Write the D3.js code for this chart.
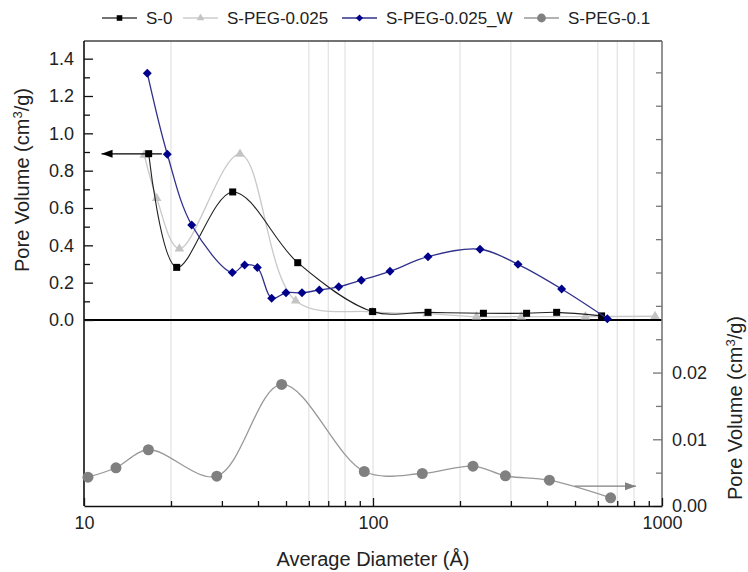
<!DOCTYPE html>
<html><head><meta charset="utf-8">
<script src="https://cdn.jsdelivr.net/npm/d3@7"></script>
<style>
body{margin:0;background:#fff}
svg{display:block}
text{font-family:"Liberation Sans",Arial,sans-serif;fill:#222}
</style>
</head><body>
<svg id="chart" width="748" height="572"></svg>
<script>
// ---- data ----
const seriesNames = ["S-0", "S-PEG-0.025", "S-PEG-0.025_W", "S-PEG-0.1"];

const s0Diam = [16.74, 20.93, 32.7, 54.9, 99.7, 155, 241, 340, 432, 618];
const s0Vol  = [0.891, 0.282, 0.686, 0.307, 0.045, 0.041, 0.036, 0.036, 0.041, 0.022];

const peg025Diam = [16.17, 17.84, 21.38, 34.66, 54.0, 99.5, 154, 228, 326, 543, 946];
const peg025Vol  = [0.884, 0.652, 0.382, 0.889, 0.103, 0.044, 0.034, 0.018, 0.018, 0.018, 0.02];

const peg025wDiam = [16.56, 19.42, 23.59, 32.6, 35.97, 39.8, 44.6, 50.0, 56.8, 65.2, 76.1, 91.1, 114.5, 155, 234.6, 317.5, 449.6, 646.9];
const peg025wVol  = [1.322, 0.888, 0.509, 0.254, 0.295, 0.281, 0.116, 0.146, 0.146, 0.161, 0.178, 0.213, 0.261, 0.339, 0.379, 0.298, 0.166, 0.007];

const peg01Diam = [10.32, 12.9, 16.7, 28.8, 48.3, 93.3, 148.1, 221.8, 287.2, 407.7, 664];
const peg01Vol  = [0.00432, 0.00573, 0.00843, 0.00447, 0.01822, 0.00517, 0.00487, 0.00597, 0.00453, 0.00387, 0.00123];

const xTickValues = [10, 100, 1000];
const xMinorValues = [20,30,40,50,60,70,80,90,200,300,400,500,600,700,800,900];
const gridValues = [20, 60, 70, 80, 100, 200, 300, 600, 700, 800];
const leftTickValues = [0, 0.2, 0.4, 0.6, 0.8, 1.0, 1.2, 1.4];
const leftMinorValues = [0.1, 0.3, 0.5, 0.7, 0.9, 1.1, 1.3];
const rightTickValues = [0, 0.01, 0.02];
const rightMinorValues = [0.005, 0.015, 0.025, 0.03, 0.035, 0.04, 0.045, 0.05, 0.055, 0.06, 0.065];
const leftArrow = {from: 18.6, to: 11.5, value: 0.89};
const rightArrow = {from: 499, to: 813, value: 0.00297};

// ---- layout ----
const L = 84, R = 662, T = 41, B = 506, ZERO_TOP = 320;
const svg = d3.select("#chart");

const x = d3.scaleLog().domain([10, 1000]).range([L, R]);
const yTop = d3.scaleLinear().domain([0, 1.5]).range([ZERO_TOP, 40]);
const yBot = d3.scaleLinear().domain([0, 0.07]).range([B, 39]);

// gridlines
svg.append("g").selectAll("line").data(gridValues).join("line")
  .attr("x1", d => x(d)).attr("x2", d => x(d))
  .attr("y1", T).attr("y2", B)
  .attr("stroke", "#dcdcdc").attr("stroke-width", 1);

// frame top line
svg.append("line").attr("x1", L).attr("x2", R).attr("y1", T).attr("y2", T)
  .attr("stroke", "#444").attr("stroke-width", 1.5);

// top panel zero line
svg.append("line").attr("x1", L).attr("x2", R).attr("y1", yTop(0)).attr("y2", yTop(0))
  .attr("stroke", "#000").attr("stroke-width", 2);

// ---- axes ----
function styleAxis(g, col) {
  g.selectAll("path.domain").attr("stroke", col).attr("stroke-width", 1.6);
  g.selectAll(".tick line").attr("stroke", col).attr("stroke-width", 1.3);
  g.selectAll("text").attr("fill", "#222").style("font-family", '"Liberation Sans",Arial,sans-serif').style("font-size", "18px");
}

// left axis line (full height)
svg.append("line").attr("x1", L).attr("x2", L).attr("y1", T).attr("y2", B)
  .attr("stroke", "#111").attr("stroke-width", 1.6);
// right axis line
svg.append("line").attr("x1", R).attr("x2", R).attr("y1", T).attr("y2", B)
  .attr("stroke", "#777").attr("stroke-width", 1.6);

const gLeft = svg.append("g").attr("transform", `translate(${L},0)`)
  .call(d3.axisLeft(yTop).tickValues(leftTickValues).tickSize(-9).tickSizeOuter(0).tickPadding(10)
    .tickFormat(d3.format(".1f")));
styleAxis(gLeft, "#111");
gLeft.select("path.domain").remove();
const gLeftMinor = svg.append("g").attr("transform", `translate(${L},0)`)
  .call(d3.axisLeft(yTop).tickValues(leftMinorValues).tickSize(-6).tickSizeOuter(0).tickFormat(""));
styleAxis(gLeftMinor, "#111");
gLeftMinor.select("path.domain").remove();

const gRight = svg.append("g").attr("transform", `translate(${R},0)`)
  .call(d3.axisRight(yBot).tickValues(rightTickValues).tickSize(-9).tickSizeOuter(0).tickPadding(10)
    .tickFormat(d3.format(".2f")));
styleAxis(gRight, "#777");
gRight.select("path.domain").remove();
const gRightMinor = svg.append("g").attr("transform", `translate(${R},0)`)
  .call(d3.axisRight(yBot).tickValues(rightMinorValues).tickSize(-6).tickSizeOuter(0).tickFormat(""));
styleAxis(gRightMinor, "#777");
gRightMinor.select("path.domain").remove();

const gBottom = svg.append("g").attr("transform", `translate(0,${B})`)
  .call(d3.axisBottom(x).tickValues(xTickValues).tickSize(-8).tickSizeOuter(0).tickPadding(10)
    .tickFormat(d3.format("d")));
styleAxis(gBottom, "#111");
const gBottomMinor = svg.append("g").attr("transform", `translate(0,${B})`)
  .call(d3.axisBottom(x).tickValues(xMinorValues).tickSize(-5).tickSizeOuter(0).tickFormat(""));
styleAxis(gBottomMinor, "#111");
gBottomMinor.select("path.domain").remove();

// axis titles
svg.append("text").attr("x", (L + R) / 2 - 0).attr("y", 566).attr("text-anchor", "middle")
  .style("font-size", "20px").text("Average Diameter (Å)");

function yTitle(tx, ty) {
  const t = svg.append("text").attr("transform", `translate(${tx},${ty}) rotate(-90)`)
    .attr("text-anchor", "middle").style("font-size", "20px");
  t.append("tspan").text("Pore Volume (cm");
  t.append("tspan").attr("dy", -7).style("font-size", "13px").text("3");
  t.append("tspan").attr("dy", 7).text("/g)");
}
yTitle(29, 180);
yTitle(742, 408);

// ---- series ----
const curve = d3.curveCatmullRom.alpha(0.5);
function drawLine(diam, vol, ys, color, w) {
  const pts = diam.map((d, i) => [d, vol[i]]);
  svg.append("path").datum(pts)
    .attr("d", d3.line().x(p => x(p[0])).y(p => ys(p[1])).curve(curve))
    .attr("fill", "none").attr("stroke", color).attr("stroke-width", w);
  return pts;
}
const sym = {
  square: d3.symbol().type(d3.symbolSquare).size(49),
  triangle: d3.symbol().type(d3.symbolTriangle).size(40),
  diamond: d3.symbol().type(d3.symbolSquare).size(40),
  circle: d3.symbol().type(d3.symbolCircle).size(95)
};
function drawMarkers(pts, ys, symbolGen, color, rot) {
  svg.append("g").selectAll("path").data(pts).join("path")
    .attr("d", symbolGen)
    .attr("transform", p => `translate(${x(p[0])},${ys(p[1])}) rotate(${rot})`)
    .attr("fill", color);
}

// draw order: light gray, black, blue, gray bottom
const p2 = drawLine(peg025Diam, peg025Vol, yTop, "#c9c9c9", 1.3);
drawMarkers(p2, yTop, sym.triangle, "#c4c4c4", 0);
const p1 = drawLine(s0Diam, s0Vol, yTop, "#222", 1.1);
drawMarkers(p1, yTop, sym.square, "#000", 0);
const p3 = drawLine(peg025wDiam, peg025wVol, yTop, "#30308c", 1.3);
drawMarkers(p3, yTop, sym.diamond, "#00008b", 45);
const p4 = drawLine(peg01Diam, peg01Vol, yBot, "#999", 1.3);
drawMarkers(p4, yBot, sym.circle, "#808080", 0);

// arrows
function arrow(a, ys, color, dir) {
  const x1 = x(a.from), x2 = x(a.to), yy = ys(a.value);
  svg.append("line").attr("x1", x1).attr("x2", x2).attr("y1", yy).attr("y2", yy)
    .attr("stroke", color).attr("stroke-width", 1.3);
  const hl = 11, hw = 4;
  svg.append("path")
    .attr("d", `M${x2},${yy} L${x2 - dir * hl},${yy - hw} L${x2 - dir * hl},${yy + hw} Z`)
    .attr("fill", color);
}
arrow(leftArrow, yTop, "#000", -1);
arrow(rightArrow, yBot, "#808080", 1);

// ---- legend ----
const legendItems = [
  {name: seriesNames[0], x: 102, line: "#444", sym: sym.square, fill: "#000", rot: 0},
  {name: seriesNames[1], x: 183, line: "#ccc", sym: sym.triangle, fill: "#c4c4c4", rot: 0},
  {name: seriesNames[2], x: 342, line: "#30308c", sym: sym.diamond, fill: "#00008b", rot: 45},
  {name: seriesNames[3], x: 524, line: "#999", sym: sym.circle, fill: "#808080", rot: 0}
];
const lg = svg.append("g").selectAll("g").data(legendItems).join("g")
  .attr("transform", d => `translate(${d.x},18)`);
lg.append("line").attr("x1", 0).attr("x2", 35).attr("y1", 0).attr("y2", 0)
  .attr("stroke", d => d.line).attr("stroke-width", 1.5);
lg.append("path").attr("d", d => d.sym.size ? d.sym() : d.sym())
  .attr("transform", d => `translate(17.5,0) rotate(${d.rot}) scale(0.8)`)
  .attr("fill", d => d.fill);
lg.append("text").attr("x", 44).attr("y", 6).style("font-size", "17px").text(d => d.name);
</script>
</body></html>
